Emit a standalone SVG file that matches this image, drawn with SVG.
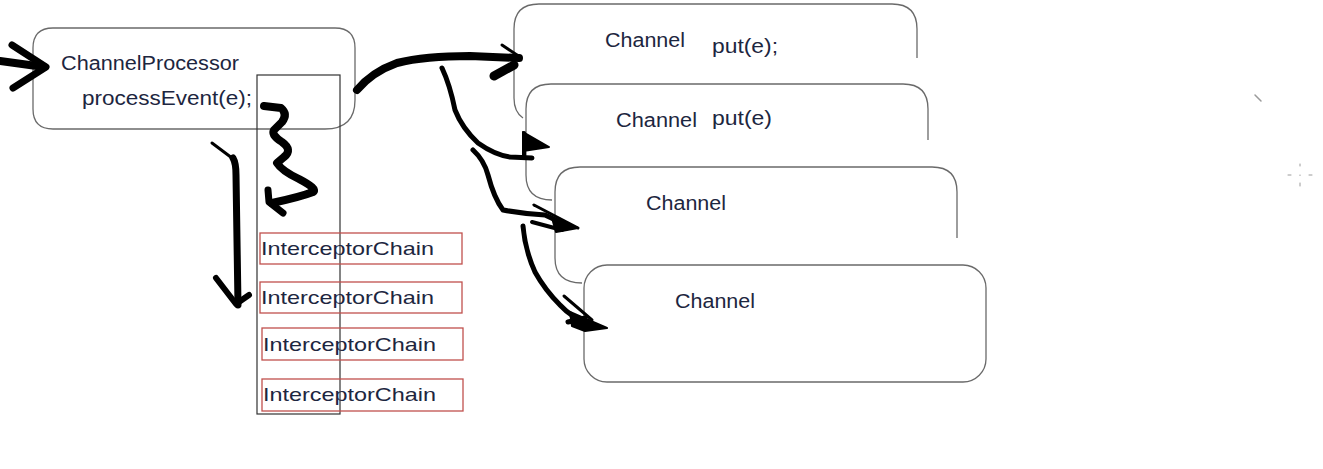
<svg xmlns="http://www.w3.org/2000/svg" width="1323" height="469" viewBox="0 0 1323 469">
<style>
.bg{fill:#ffffff}
.box{fill:none;stroke:#6a6a6a;stroke-width:1.3}
.full{fill:#ffffff;stroke:#6a6a6a;stroke-width:1.3}
.col{fill:none;stroke:#333333;stroke-width:1.2}
.ic{fill:none;stroke:#c0504d;stroke-width:1.3}
.t{font-family:"Liberation Sans",Arial,sans-serif;font-size:20px;fill:#1d2640}
.ti{font-family:"Liberation Sans",Arial,sans-serif;font-size:19px;fill:#1d2640}
.b{fill:none;stroke:#000000;stroke-linecap:round;stroke-linejoin:round}
.f{fill:#000000;stroke:#000000;stroke-linejoin:round}
.faint{fill:none;stroke:#9a9a9a;stroke-linecap:round}
</style>
<rect class="bg" x="0" y="0" width="1323" height="469"/>

<g id="channel-processor">
<path class="box" d="M53,28 L335,28 Q355,28 355,48 L355,100 Q355,129 325,129 L53,129 Q33,129 33,109 L33,48 Q33,28 53,28 Z"/>
<text class="t" x="61" y="70" textLength="178" lengthAdjust="spacingAndGlyphs">ChannelProcessor</text>
<text class="t" x="82" y="105" textLength="170" lengthAdjust="spacingAndGlyphs">processEvent(e);</text>
</g>

<g id="interceptor-column">
<rect class="col" x="257" y="75" width="83" height="339"/>
</g>

<g id="interceptor-1">
<rect class="ic" x="260" y="233" width="202" height="31"/>
<text class="ti" x="261" y="255" textLength="173" lengthAdjust="spacingAndGlyphs">InterceptorChain</text>
</g>
<g id="interceptor-2">
<rect class="ic" x="260" y="282" width="202" height="31"/>
<text class="ti" x="261" y="304" textLength="173" lengthAdjust="spacingAndGlyphs">InterceptorChain</text>
</g>
<g id="interceptor-3">
<rect class="ic" x="262" y="328" width="201" height="32"/>
<text class="ti" x="263" y="351" textLength="173" lengthAdjust="spacingAndGlyphs">InterceptorChain</text>
</g>
<g id="interceptor-4">
<rect class="ic" x="262" y="379" width="201" height="32"/>
<text class="ti" x="263" y="401" textLength="173" lengthAdjust="spacingAndGlyphs">InterceptorChain</text>
</g>

<g id="channel-1">
<path class="box" d="M523,118 Q514,112 514,98 L514,29 Q514,4 539,4 L892,4 Q917,4 917,29 L917,58"/>
<text class="t" x="605" y="47" textLength="80" lengthAdjust="spacingAndGlyphs">Channel</text>
<text class="t" x="712" y="53" textLength="66" lengthAdjust="spacingAndGlyphs">put(e);</text>
</g>
<g id="channel-2">
<path class="box" d="M552,200 Q526,200 526,175 L526,109 Q526,84 551,84 L903,84 Q928,84 928,109 L928,140"/>
<text class="t" x="616" y="127" textLength="81" lengthAdjust="spacingAndGlyphs">Channel</text>
<text class="t" x="712" y="125" textLength="60" lengthAdjust="spacingAndGlyphs">put(e)</text>
</g>
<g id="channel-3">
<path class="box" d="M582,283 Q555,283 555,258 L555,192 Q555,167 580,167 L932,167 Q957,167 957,192 L957,238"/>
<text class="t" x="646" y="210" textLength="80" lengthAdjust="spacingAndGlyphs">Channel</text>
</g>
<g id="channel-4">
<rect class="full" x="584" y="265" width="402" height="117" rx="23" ry="23"/>
<text class="t" x="675" y="308" textLength="80" lengthAdjust="spacingAndGlyphs">Channel</text>
</g>

<g id="connectors">
<!-- incoming arrow -->
<path class="b" d="M0,61 L44,67" stroke-width="8"/>
<path class="b" d="M12,45 L46,67 L13,88" stroke-width="7"/>
<!-- processor to channel 1 -->
<path class="b" d="M357,90 Q372,72 397,63 Q425,56 470,56 L519,58" stroke-width="8"/>
<path class="b" d="M502,45 L520,57" stroke-width="3"/>
<path class="b" d="M494,76 L514,65" stroke-width="9"/>
<!-- to channel 2 -->
<path class="b" d="M442,68 Q450,85 455,110 Q462,128 478,143 Q495,155 510,157 L532,158" stroke-width="5"/>
<path class="f" d="M523,132 L549,147 L523,151 Z" stroke-width="2"/>
<path class="b" d="M524,133 L524,157" stroke-width="4"/>
<!-- to channel 3 -->
<path class="b" d="M473,150 Q484,160 488,175 Q494,198 503,210 Q525,214 545,215 L562,223" stroke-width="5"/>
<path class="b" d="M534,205 L578,228" stroke-width="3"/>
<path class="b" d="M532,222 L562,230" stroke-width="4"/>
<path class="f" d="M552,218 L578,228 L556,232 Z" stroke-width="2"/>
<!-- to channel 4 -->
<path class="b" d="M523,226 Q525,250 535,272 Q545,290 560,305 Q572,318 588,323" stroke-width="5"/>
<path class="b" d="M564,296 L592,320" stroke-width="3"/>
<path class="f" d="M570,312 L607,328 L585,331 L572,326 Z" stroke-width="2"/>
<path class="b" d="M568,322 L585,318" stroke-width="5"/>
<!-- squiggle down the interceptor column -->
<path class="b" d="M264,106 L281,108 Q288,114 282,122 L274,130 Q271,135 282,142 Q293,150 284,157 L277,163 Q282,171 299,179 Q318,189 313,192 Q300,197 272,203" stroke-width="8"/>
<path class="b" d="M268,190 L269,202 L283,213" stroke-width="7"/>
<!-- long down arrow -->
<path class="b" d="M212,143 L232,158" stroke-width="3"/>
<path class="b" d="M233,158 Q236,163 236,175 L238,305" stroke-width="7"/>
<path class="b" d="M216,278 L236,304 L249,295" stroke-width="6"/>
</g>

<g id="marks">
<path class="faint" d="M1255,95 L1261,101" stroke-width="1.5"/>
<path class="faint" d="M1300,164 L1300,166 M1300,183 L1300,186 M1288,175 L1291,175 M1309,175 L1312,175 M1300,175 L1300,175.5" stroke-width="1"/>
</g>
</svg>
